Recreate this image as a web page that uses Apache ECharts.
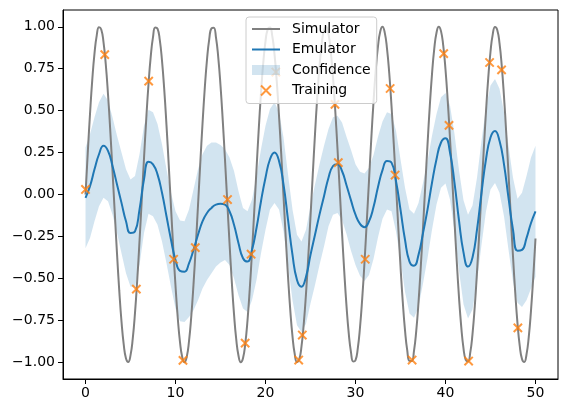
<!DOCTYPE html>
<html>
<head>
<meta charset="utf-8">
<script src="https://cdn.jsdelivr.net/npm/echarts@6/dist/echarts.min.js"></script>
<style>
  html, body { margin: 0; padding: 0; background: #fff; }
  #chart { width: 568px; height: 413px; }
</style>
</head>
<body>
<div id="chart"></div>
<script>
// simulator read every 0.25 from x = 0 to x = 50
const simulator = [
  0.000, 0.247, 0.479, 0.682, 0.841, 0.949, 0.997, 0.984, 0.909, 0.778,
  0.598, 0.382, 0.141, -0.108, -0.351, -0.572, -0.757, -0.895, -0.978, -0.999,
  -0.959, -0.859, -0.706, -0.508, -0.279, -0.033, 0.215, 0.450, 0.657, 0.823,
  0.938, 0.995, 0.989, 0.923, 0.798, 0.625, 0.412, 0.174, -0.075, -0.320,
  -0.544, -0.735, -0.880, -0.970, -1.000, -0.968, -0.875, -0.729, -0.537, -0.311,
  -0.066, 0.183, 0.420, 0.632, 0.804, 0.926, 0.991, 0.994, 0.935, 0.818,
  0.650, 0.442, 0.207, -0.042, -0.288, -0.516, -0.712, -0.864, -0.961, -1.000,
  -0.976, -0.891, -0.751, -0.564, -0.342, -0.099, 0.150, 0.390, 0.606, 0.784,
  0.913, 0.986, 0.996, 0.946, 0.837, 0.675, 0.471, 0.239, -0.009, -0.256,
  -0.487, -0.688, -0.846, -0.952, -0.998, -0.982, -0.906, -0.772, -0.591, -0.374,
  -0.132, 0.117, 0.360, 0.579, 0.763, 0.899, 0.980, 0.999, 0.956, 0.854,
  0.699, 0.501, 0.271, 0.024, -0.224, -0.458, -0.664, -0.828, -0.941, -0.996,
  -0.988, -0.919, -0.793, -0.618, -0.404, -0.165, 0.083, 0.328, 0.551, 0.741,
  0.884, 0.972, 1.000, 0.965, 0.870, 0.723, 0.529, 0.303, 0.057, -0.191,
  -0.428, -0.638, -0.809, -0.929, -0.992, -0.993, -0.932, -0.813, -0.644, -0.434,
  -0.199, 0.051, 0.296, 0.524, 0.718, 0.868, 0.964, 1.000, 0.974, 0.887,
  0.745, 0.557, 0.334, 0.091, -0.159, -0.398, -0.613, -0.789, -0.917, -0.987,
  -0.995, -0.943, -0.832, -0.669, -0.463, -0.230, 0.018, 0.265, 0.495, 0.695,
  0.851, 0.955, 0.999, 0.981, 0.902, 0.767, 0.584, 0.365, 0.124, -0.126,
  -0.368, -0.586, -0.768, -0.903, -0.981, -0.999, -0.954, -0.850, -0.692, -0.493,
  -0.262
];
// emulator mean, read every 0.5 from x = 0 to x = 50
const emulator = [
  -0.02, 0.05, 0.15, 0.24, 0.29, 0.26, 0.17, 0.06, -0.05, -0.16,
  -0.23, -0.22, -0.09, 0.09, 0.195, 0.18, 0.12, 0.01, -0.13, -0.27,
  -0.39, -0.455, -0.46, -0.41, -0.33, -0.24, -0.16, -0.11, -0.08, -0.06,
  -0.055, -0.06, -0.10, -0.18, -0.29, -0.38, -0.40, -0.33, -0.20, -0.04,
  0.10, 0.21, 0.25, 0.20, 0.06, -0.15, -0.36, -0.51, -0.55, -0.49,
  -0.36, -0.24, -0.12, -0.01, 0.10, 0.17, 0.18, 0.14, 0.055, -0.035,
  -0.12, -0.175, -0.195, -0.16, -0.075, 0.045, 0.145, 0.20, 0.19, 0.08,
  -0.09, -0.27, -0.40, -0.425, -0.36, -0.23, -0.09, 0.07, 0.21, 0.31,
  0.335, 0.25, 0.07, -0.155, -0.345, -0.43, -0.375, -0.21, 0.01, 0.21,
  0.34, 0.378, 0.32, 0.18, -0.02, -0.21, -0.335, -0.33, -0.26, -0.17,
  -0.10
];
// half width of the confidence band, same x as emulator
const spread = [
  0.30, 0.31, 0.31, 0.31, 0.31, 0.30, 0.29, 0.29, 0.30, 0.31,
  0.32, 0.33, 0.33, 0.32, 0.31, 0.31, 0.30, 0.29, 0.28, 0.28,
  0.29, 0.30, 0.30, 0.32, 0.36, 0.39, 0.40, 0.40, 0.39, 0.37,
  0.35, 0.33, 0.32, 0.32, 0.31, 0.30, 0.30, 0.30, 0.31, 0.31,
  0.31, 0.30, 0.30, 0.29, 0.28, 0.27, 0.27, 0.27, 0.27, 0.28,
  0.29, 0.30, 0.30, 0.30, 0.29, 0.29, 0.29, 0.29, 0.29, 0.30,
  0.30, 0.31, 0.32, 0.32, 0.31, 0.30, 0.29, 0.29, 0.29, 0.30,
  0.30, 0.31, 0.31, 0.31, 0.31, 0.30, 0.29, 0.28, 0.27, 0.27,
  0.27, 0.28, 0.29, 0.30, 0.31, 0.31, 0.31, 0.31, 0.31, 0.31,
  0.31, 0.31, 0.31, 0.31, 0.31, 0.31, 0.31, 0.34, 0.37, 0.39,
  0.39
];
const trainX = [0, 2.14, 5.65, 7.02, 9.79, 10.83, 12.2, 15.78, 17.74, 18.4, 21.15, 23.69, 24.09,
  27.72, 28.09, 31.08, 33.85, 34.4, 36.29, 39.8, 40.39, 42.57, 44.9, 46.23, 48.04];
const trainY = [0.03, 0.834, -0.564, 0.676, -0.386, -0.989, -0.317, -0.03, -0.886, -0.356, 0.73, -0.987, -0.838,
  0.537, 0.19, -0.386, 0.632, 0.116, -0.987, 0.84, 0.412, -0.993, 0.787, 0.743, -0.795];
const xTicks = [0, 10, 20, 30, 40, 50];
const yTicks = [-1, -0.75, -0.5, -0.25, 0, 0.25, 0.5, 0.75, 1];

const simX = simulator.map((_, i) => i * 0.25);
const emuX = emulator.map((_, i) => i * 0.5);
const bandRows = emuX.map((x, i) => [x, emulator[i] - spread[i], emulator[i] + spread[i]]);

const font = 'DejaVu Sans';
const bandColor = 'rgba(31,119,180,0.2)';
const lineIcon = 'path://M0,0H28V2H0Z';
const chart = echarts.init(document.getElementById('chart'));

chart.setOption({
  animation: false,
  grid: { left: 63, right: 10, top: 10, bottom: 34, show: true, borderColor: '#000', borderWidth: 1 },
  xAxis: {
    type: 'value', min: -2.5, max: 52.5,
    splitLine: { show: false },
    axisLine: { onZero: false, lineStyle: { color: '#000', width: 1 } },
    axisTick: { show: true, length: 5, lineStyle: { color: '#000' }, customValues: xTicks },
    axisLabel: { customValues: xTicks, margin: 7, color: '#000', fontSize: 14, fontFamily: font }
  },
  yAxis: {
    type: 'value', min: -1.1, max: 1.1,
    splitLine: { show: false },
    axisLine: { show: true, onZero: false, lineStyle: { color: '#000', width: 1 } },
    axisTick: { show: true, length: 5, lineStyle: { color: '#000' }, customValues: yTicks },
    axisLabel: {
      customValues: yTicks, margin: 8, color: '#000', fontSize: 14, fontFamily: font,
      formatter: v => (v < 0 ? '\u2212' : '') + Math.abs(v).toFixed(2)
    }
  },
  legend: {
    orient: 'vertical', left: 246, top: 17, z: 20,
    padding: [5, 6, 6, 6],
    itemWidth: 28, itemHeight: 10, itemGap: 6.5,
    backgroundColor: 'rgba(255,255,255,0.8)',
    borderColor: '#cccccc', borderWidth: 1, borderRadius: 3,
    textStyle: { fontSize: 14, fontFamily: font, color: '#000', padding: [0, 0, 0, 7], lineHeight: 14 },
    data: [
      { name: 'Simulator', icon: lineIcon, itemStyle: { color: '#808080' } },
      { name: 'Emulator', icon: lineIcon, itemStyle: { color: '#1f77b4' } },
      { name: 'Confidence', icon: 'rect', itemStyle: { color: bandColor } },
      'Training'
    ]
  },
  series: [
    {
      name: 'Confidence', type: 'custom', data: bandRows, silent: true, z: 1, clip: true,
      encode: { x: 0, y: [1, 2] },
      itemStyle: { color: bandColor },
      renderItem: (params, api) => {
        if (params.dataIndex !== 0) return;
        const top = bandRows.map(r => api.coord([r[0], r[2]]));
        const bottom = bandRows.map(r => api.coord([r[0], r[1]])).reverse();
        return {
          type: 'polygon',
          shape: { points: top.concat(bottom) },
          style: { fill: bandColor }
        };
      }
    },
    {
      name: 'Simulator', type: 'line', data: simX.map((x, i) => [x, simulator[i]]),
      smooth: true, symbol: 'none', silent: true, z: 2,
      itemStyle: { color: '#808080' },
      lineStyle: { color: '#808080', width: 2 }
    },
    {
      name: 'Emulator', type: 'line', data: emuX.map((x, i) => [x, emulator[i]]),
      smooth: true, symbol: 'none', silent: true, z: 3,
      itemStyle: { color: '#1f77b4' },
      lineStyle: { color: '#1f77b4', width: 2 }
    },
    {
      name: 'Training', type: 'scatter', data: trainX.map((x, i) => [x, trainY[i]]),
      symbol: 'path://M0 0L10 10M10 0L0 10', symbolSize: 8.3, silent: true, z: 4,
      itemStyle: { color: 'rgba(0,0,0,0)', borderColor: '#ff7f0e', borderWidth: 2 }
    }
  ]
});
</script>
</body>
</html>
